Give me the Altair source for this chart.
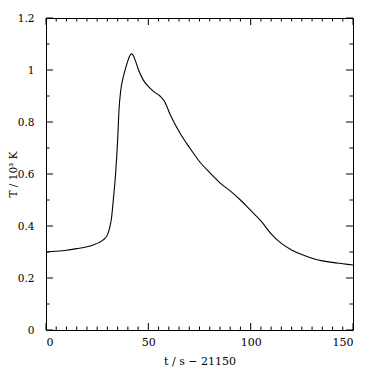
import altair as alt
import pandas as pd

# time since 21150 s
t_s = [0, 5, 10, 15, 20, 23, 26, 28, 30, 31, 32, 33, 34, 35, 35.7, 36.5, 37.8, 39,
       40.2, 41, 41.9, 42.7, 43.5, 45, 47.5, 50.8, 53, 55.7, 58, 60.6, 65.5, 70, 75,
       80, 85, 90, 95, 100, 105, 110, 115, 120, 125, 130, 135, 140, 145, 150]
# temperature in 10^3 K
T_k = [0.300, 0.303, 0.307, 0.313, 0.320, 0.327, 0.337, 0.347, 0.366, 0.39, 0.43, 0.51,
       0.60, 0.73, 0.85, 0.92, 0.975, 1.01, 1.04, 1.056, 1.062, 1.055, 1.04, 1.005,
       0.962, 0.93, 0.915, 0.90, 0.878, 0.83, 0.757, 0.703, 0.648, 0.605, 0.566, 0.535,
       0.50, 0.46, 0.42, 0.37, 0.333, 0.308, 0.29, 0.276, 0.266, 0.26, 0.255, 0.25]

x_labels = [0, 50, 100, 150]
y_labels = [0, 0.2, 0.4, 0.6, 0.8, 1, 1.2]
x_minor = [v for v in range(0, 151, 5) if v % 50 != 0]
x_major = [0, 50, 100, 150]
y_minor = [0.1, 0.3, 0.5, 0.7, 0.9, 1.1]
y_major = [0, 0.2, 0.4, 0.6, 0.8, 1.0, 1.2]

W, H = 307, 312
FONT = "DejaVu Serif"

df = pd.DataFrame({"t": t_s, "T": T_k})
xscale = alt.Scale(domain=[0, 150], nice=False, zero=False)
yscale = alt.Scale(domain=[0, 1.2], nice=False)

xaxis = alt.Axis(title="t / s − 21150", values=x_labels, ticks=False, tickSize=0,
                 domain=False, grid=False, labelPadding=6, titlePadding=8,
                 labelFont=FONT, titleFont=FONT, labelFontSize=11, titleFontSize=11,
                 titleFontWeight="normal", labelColor="black", titleColor="black")
yaxis = alt.Axis(title="T / 10³ K", values=y_labels, format="~g", ticks=False,
                 tickSize=0, domain=False, grid=False, labelPadding=12,
                 titleX=-30, titleBaseline="alphabetic", titleAngle=270,
                 labelFont=FONT, titleFont=FONT, labelFontSize=10.5,
                 titleFontSize=10.5, titleFontWeight="normal", labelColor="black",
                 titleColor="black")

line = alt.Chart(df).mark_line(color="black", strokeWidth=1.1, interpolate="monotone").encode(
    x=alt.X("t:Q", scale=xscale, axis=xaxis),
    y=alt.Y("T:Q", scale=yscale, axis=yaxis),
)


def xticks(vals, length):
    d = pd.DataFrame({"t": vals})
    base = alt.Chart(d).mark_rule(color="black", strokeWidth=1)
    enc_x = alt.X("t:Q", scale=xscale, axis=xaxis)
    bottom = base.encode(x=enc_x, y=alt.value(H), y2=alt.value(H - length))
    top = base.encode(x=enc_x, y=alt.value(0), y2=alt.value(length))
    return [bottom, top]


def yticks(vals, length):
    d = pd.DataFrame({"T": vals})
    base = alt.Chart(d).mark_rule(color="black", strokeWidth=1)
    enc_y = alt.Y("T:Q", scale=yscale, axis=yaxis)
    left = base.encode(y=enc_y, x=alt.value(0), x2=alt.value(length))
    right = base.encode(y=enc_y, x=alt.value(W), x2=alt.value(W - length))
    return [left, right]


layers = [line] + xticks(x_minor, 3.5) + xticks(x_major, 7) + yticks(y_minor, 3.5) + yticks(y_major, 7)

chart = alt.layer(*layers).properties(
    width=W, height=H,
    autosize=alt.AutoSizeParams(type="none"),
    padding={"left": 38, "top": 10, "right": 12, "bottom": 38},
    background="white",
).configure_view(stroke="black", strokeWidth=1)

chart.save("out.html", embed_options={"renderer": "svg", "actions": False})
